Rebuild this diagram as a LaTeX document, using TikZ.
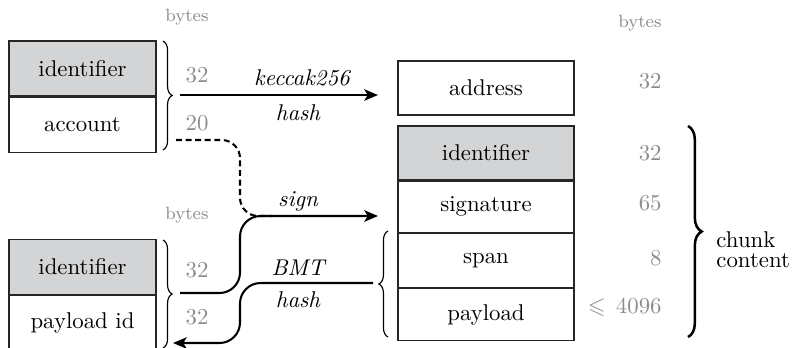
\documentclass[tikz,border=0pt]{standalone}
\usepackage{amssymb}
\usetikzlibrary{arrows.meta,decorations.pathreplacing}
\definecolor{cellgrey}{RGB}{211,212,214}
\definecolor{sizegrey}{RGB}{140,140,140}
\begin{document}
\begin{tikzpicture}[x=0.4386pt,y=-0.4386pt,
  cell/.style={draw=black!85, line width=0.5pt, minimum width=64.5pt,
    minimum height=24.1pt, inner sep=0pt},
  wide/.style={cell, minimum width=77.2pt, minimum height=23.7pt},
  key/.style={fill=cellgrey},
  size/.style={text=sizegrey, anchor=east, inner sep=0pt},
  unit/.style={size, font=\fontsize{7.8}{9}\selectfont},
  op/.style={font=\itshape, inner sep=0pt},
  flow/.style={line width=0.9pt, -{Stealth[length=6pt,width=5pt,inset=1.5pt]}},
  grp/.style={decorate, decoration={brace, amplitude=4pt}, line width=0.5pt},
  biggrp/.style={decorate, decoration={brace, amplitude=6pt}, line width=1.1pt},
]
\useasboundingbox (0,0) rectangle (792,347);

% single owner chunk: identifier + account
\node[cell,key] (id1) at (82.5,68.5) {identifier};
\node[cell,anchor=north] (acct) at (id1.south) {account};
\draw[grp] (163,41) -- (163,150);
\node[unit] (u1) at (209,17) {bytes};
\node[size] (n1) at (209,75) {32};
\node[size] (n2) at (209,123) {20};

% identifier + payload id
\node[cell,key] (id2) at (82.5,267) {identifier};
\node[cell,anchor=north] (pid) at (id2.south) {payload id};
\draw[grp] (163,240) -- (163,348);
\node[unit] (u2) at (209,215) {bytes};
\node[size] (n3) at (209,270) {32};
\node[size] (n4) at (209,317) {32};

% resulting chunk layout
\node[wide] (addr) at (486,88) {address};
\node[wide,key] (id3) at (486,153) {identifier};
\node[wide,minimum height=22.4pt,anchor=north] (sig) at (id3.south) {signature};
\node[wide,anchor=north] (span) at (sig.south) {span};
\node[wide,minimum height=22.8pt,anchor=north] (pay) at (span.south) {payload};

\node[unit] (u3) at (662,23) {bytes};
\node[size] (m1) at (662,81) {32};
\node[size] (m2) at (662,153) {32};
\node[size] (m3) at (662,203) {65};
\node[size] (m4) at (662,258) {8};
\node[size] (m5) at (662,307) {$\leqslant$\hspace{4.5pt}4096};

\draw[grp] (388,337) -- (388,231);
\draw[biggrp] (688,126) -- (688,337);
\node[anchor=west, align=left, inner sep=0pt, font=\fontsize{10}{8.8}\selectfont]
  (cc) at (716,250) {chunk\\content};

% connectors
\coordinate (h0) at (180,95);
\coordinate (h1) at (378,95);
\draw[flow] (h0) -- (h1);
\node[op] (lk) at (302,78) {keccak256};
\node[op] (lh1) at (298,113) {hash};

\coordinate (d0) at (176,140);
\coordinate (d1) at (272,216);
\draw[line width=0.9pt, dash pattern=on 2.6pt off 1.6pt, rounded corners=8pt]
  (d0) -| (240,216) -- (d1);

\coordinate (s0) at (180,293);
\coordinate (s1) at (378,216);
\draw[flow, rounded corners=9pt] (s0) -| (240,216) -- (s1);
\node[op] (ls) at (298,201) {sign};

\coordinate (b0) at (373,283);
\coordinate (b1) at (173,343);
\draw[flow, rounded corners=9pt] (b0) -| (240,343) -- (b1);
\node[op] (lb) at (298,268) {BMT};
\node[op] (lh2) at (298,300) {hash};
\end{tikzpicture}
\end{document}
